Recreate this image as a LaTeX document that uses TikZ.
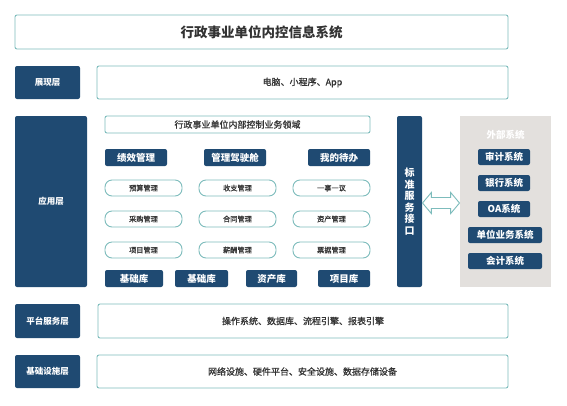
\documentclass[tikz,border=0pt]{standalone}
\usepackage{fontspec}
\setmainfont{Noto Sans CJK SC}
\newfontfamily\medfont{Noto Sans CJK SC}[FakeBold=0.8]
\usetikzlibrary{shapes.arrows,calc}
\definecolor{navy}{HTML}{1F4A72}
\definecolor{tealb}{HTML}{7DBCBC}
\definecolor{greyb}{HTML}{E3E0DD}
\definecolor{txt}{HTML}{333333}
\newcommand\fs[1]{\fontsize{#1}{#1}\selectfont}
\tikzset{
  base/.style={anchor=north west, inner sep=0pt, outer sep=0pt, align=center},
  dark/.style={base, fill=navy, rounded corners=2pt, text=white, font=\bfseries\fs{8.5}},
  darkbtn/.style={base, fill=navy, rounded corners=2pt, text=white, font=\bfseries\fs{9.5}},
  wbox/.style={base, draw=tealb, line width=0.9pt, fill=white, rounded corners=2pt, text=txt, font=\medfont\fs{9}},
  pill/.style={base, draw=tealb, line width=0.9pt, fill=white, rounded corners=7pt, text=txt, font=\medfont\fs{7.2}},
}
\begin{document}
\begin{tikzpicture}[x=1pt,y=-1pt]
\useasboundingbox[fill=white] (0,0) rectangle (567,405);
% title
\node[wbox, minimum width=493pt, minimum height=34pt, font=\bfseries\fs{13.5}] (title) at (15,15) {行政事业单位内控信息系统};
% presentation layer
\node[dark, minimum width=65pt, minimum height=33pt] (l1) at (15,66) {展现层};
\node[wbox, minimum width=411pt, minimum height=33pt] (c1) at (97,66) {电脑、小程序、App};
% application layer
\node[dark, minimum width=72pt, minimum height=171pt] (l2) at (15,116) {应用层};
\node[wbox, minimum width=265pt, minimum height=17pt] (dom) at (105,116) {行政事业单位内部控制业务领域};
\node[darkbtn, minimum width=62pt, minimum height=17pt] (b1) at (105,149) {绩效管理};
\node[darkbtn, minimum width=62pt, minimum height=17pt] (b2) at (204,149) {管理驾驶舱};
\node[darkbtn, minimum width=62pt, minimum height=17pt] (b3) at (308,149) {我的待办};
\node[pill, minimum width=77pt, minimum height=16pt] (p11) at (105,180) {预算管理};
\node[pill, minimum width=77pt, minimum height=16pt] (p12) at (199,180) {收支管理};
\node[pill, minimum width=77pt, minimum height=16pt] (p13) at (293,180) {一事一议};
\node[pill, minimum width=77pt, minimum height=16pt] (p21) at (105,211) {采购管理};
\node[pill, minimum width=77pt, minimum height=16pt] (p22) at (199,211) {合同管理};
\node[pill, minimum width=77pt, minimum height=16pt] (p23) at (293,211) {资产管理};
\node[pill, minimum width=77pt, minimum height=16pt] (p31) at (105,242) {项目管理};
\node[pill, minimum width=77pt, minimum height=16pt] (p32) at (199,242) {薪酬管理};
\node[pill, minimum width=77pt, minimum height=16pt] (p33) at (293,242) {票据管理};
\node[darkbtn, minimum width=58pt, minimum height=17pt] (d1) at (105,270) {基础库};
\node[darkbtn, minimum width=53pt, minimum height=17pt] (d2) at (175,270) {基础库};
\node[darkbtn, minimum width=51pt, minimum height=17pt] (d3) at (246,270) {资产库};
\node[darkbtn, minimum width=52pt, minimum height=17pt] (d4) at (318,270) {项目库};
% interface
\node[darkbtn, minimum width=25pt, minimum height=171pt, font=\bfseries\fs{10}] (api) at (397,116) {标\\[1.5pt]准\\[1.5pt]服\\[1.5pt]务\\[1.5pt]接\\[1.5pt]口};
% external systems
\node[base, fill=greyb, minimum width=91pt, minimum height=171pt] (ext) at (460,116) {};
\node[base, anchor=center, text=white, font=\bfseries\fs{9.5}] (extt) at (505.5,135) {外部系统};
\node[darkbtn, minimum width=52pt, minimum height=16pt] (e1) at (478,149) {审计系统};
\node[darkbtn, minimum width=52pt, minimum height=16pt] (e2) at (478,175) {银行系统};
\node[darkbtn, minimum width=52pt, minimum height=16pt] (e3) at (478,201) {OA系统};
\node[darkbtn, minimum width=74pt, minimum height=16pt] (e4) at (468,227) {单位业务系统};
\node[darkbtn, minimum width=74pt, minimum height=16pt] (e5) at (468,253) {会计系统};
% double arrow
\path (api.east |- 0,203) coordinate (aL) (ext.west |- 0,203) coordinate (aR);
\node[double arrow, draw=tealb, line width=0.9pt, fill=white, anchor=center,
      minimum height=37pt, minimum width=21pt, inner sep=0pt, text height=0pt, text depth=0pt,
      inner ysep=5pt, double arrow head extend=5pt, double arrow tip angle=100] (arr) at ($(aL)!0.5!(aR)$) {};
% platform layer
\node[dark, minimum width=65pt, minimum height=34pt] (l3) at (15,304) {平台服务层};
\node[wbox, minimum width=410pt, minimum height=34pt] (c3) at (98,304) {操作系统、数据库、流程引擎、报表引擎};
% infrastructure layer
\node[dark, minimum width=65pt, minimum height=33pt] (l4) at (15,355) {基础设施层};
\node[wbox, minimum width=411pt, minimum height=33pt] (c4) at (97,355) {网络设施、硬件平台、安全设施、数据存储设备};
\end{tikzpicture}
\end{document}
